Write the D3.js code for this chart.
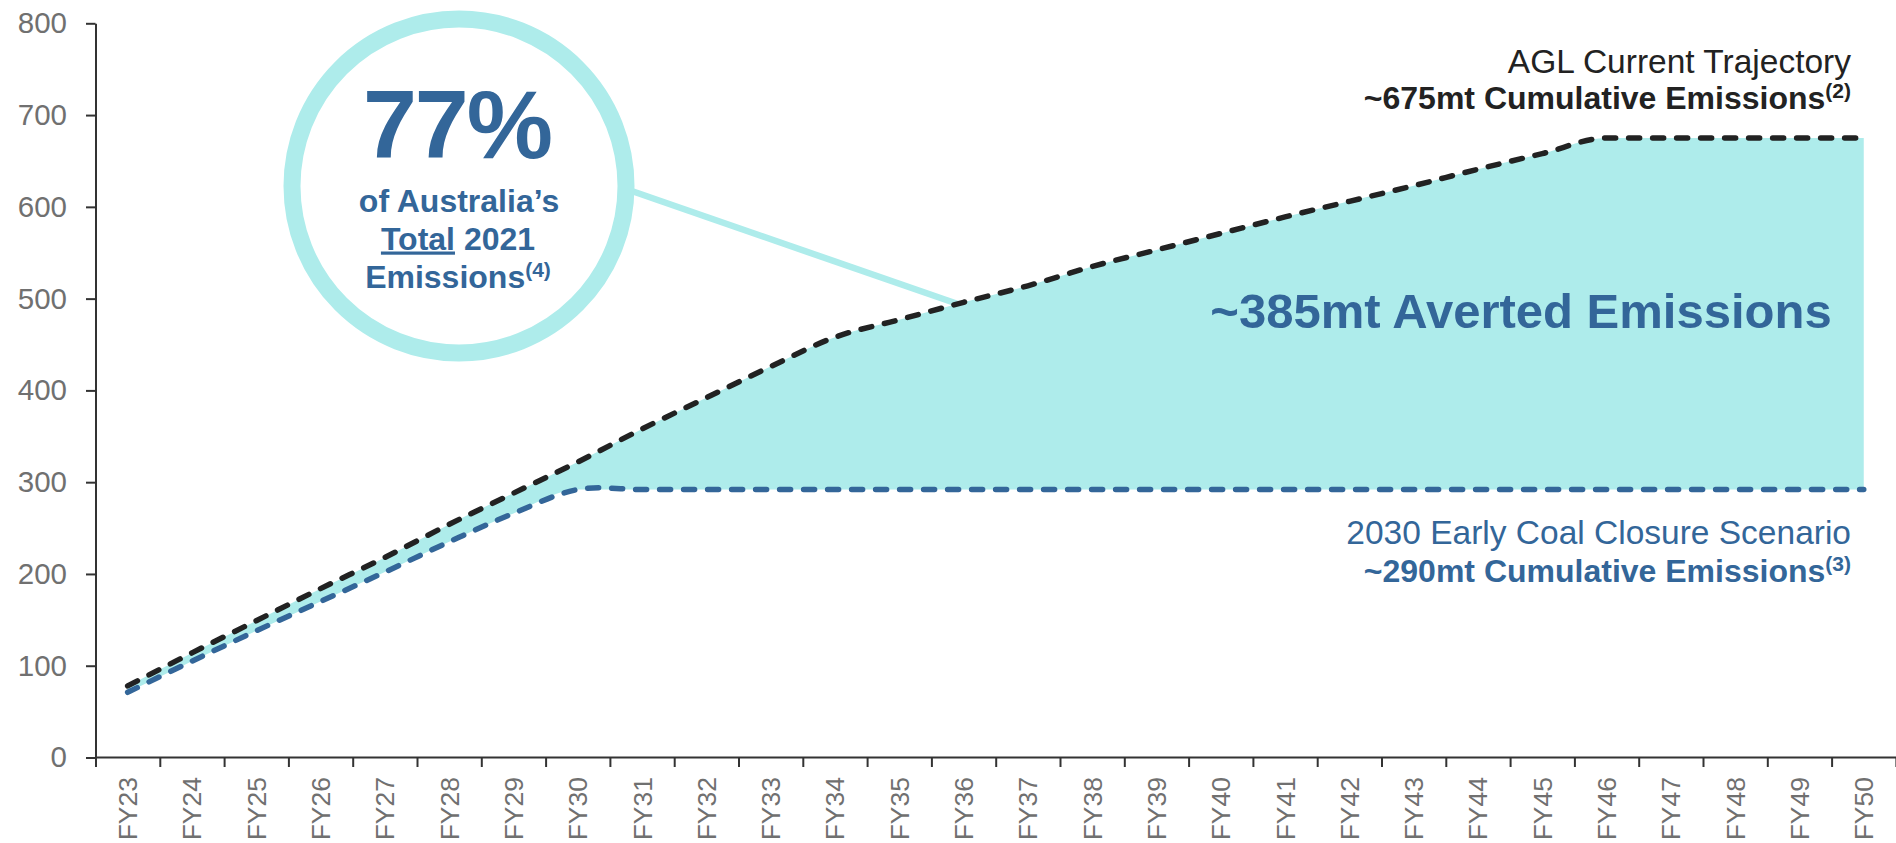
<!DOCTYPE html>
<html>
<head>
<meta charset="utf-8">
<script src="https://cdn.jsdelivr.net/npm/d3@7"></script>
<style>
  html, body { margin: 0; padding: 0; background: #ffffff; }
  svg { display: block; font-family: "Liberation Sans", Arial, Helvetica, sans-serif; }
</style>
</head>
<body>
<svg id="chart" width="1896" height="843"></svg>
<script>
// ---------------- DATA ----------------
const categories = ["FY23","FY24","FY25","FY26","FY27","FY28","FY29","FY30","FY31","FY32",
  "FY33","FY34","FY35","FY36","FY37","FY38","FY39","FY40","FY41","FY42","FY43","FY44",
  "FY45","FY46","FY47","FY48","FY49","FY50"];
// AGL current trajectory – cumulative emissions (mt)
const currentTrajectory = [78,114,149,184,218,254,288,322,358,392,426,458,477,496,514,535,
  553,571,589,606,623,641,658,675,675,675,675,675];
// 2030 early coal closure scenario – cumulative emissions (mt)
const earlyClosure = [71,105,138,170,202,235,266,292,292,292,292,292,292,292,292,292,292,
  292,292,292,292,292,292,292,292,292,292,292];
const yTicks = [0,100,200,300,400,500,600,700,800];
const calloutCategory = "FY36";

// ---------------- LAYOUT ----------------
const W = 1896, H = 843;
const axisX = 95.5, yTop = 23.3, yBottom = 757.5, bandW = 64.3;
const cyan = "#aeeceb", blue = "#336699", dark = "#222222", grey = "#707070";

const svg = d3.select("#chart");

const x = d3.scaleBand().domain(categories).range([axisX, axisX + categories.length * bandW]).padding(0);
const xc = d => x(d) + x.bandwidth() / 2;
const y = d3.scaleLinear().domain([0, 800]).range([yBottom, yTop]);

const rows = categories.map((c, i) => ({ c, hi: currentTrajectory[i], lo: earlyClosure[i] }));

// area between the two scenarios
svg.append("path")
  .datum(rows)
  .attr("fill", cyan)
  .attr("d", d3.area().curve(d3.curveMonotoneX).x(d => xc(d.c)).y0(d => y(d.lo)).y1(d => y(d.hi)));

// ---------------- AXES ----------------
const yAxis = svg.append("g")
  .attr("transform", `translate(${axisX},0)`)
  .call(d3.axisLeft(y).tickValues(yTicks).tickSize(9.5).tickSizeOuter(0).tickPadding(19));
yAxis.select(".domain").attr("stroke", "#333").attr("stroke-width", 2);
yAxis.selectAll(".tick line").attr("stroke", "#333").attr("stroke-width", 2);
yAxis.selectAll(".tick text").attr("fill", grey).attr("font-size", 29.5)
  .attr("font-family", "Liberation Sans, Arial, sans-serif");

// boundary ticks (between categories)
const xb = d3.scaleLinear().domain([0, categories.length]).range([axisX, axisX + categories.length * bandW]);
const xAxis = svg.append("g")
  .attr("transform", `translate(0,${yBottom})`)
  .call(d3.axisBottom(xb).tickValues(d3.range(0, categories.length + 1)).tickSize(9.5).tickSizeOuter(0).tickFormat(""));
xAxis.select(".domain").attr("stroke", "#333").attr("stroke-width", 2).attr("d", `M${axisX},0H${W}`);
xAxis.selectAll(".tick line").attr("stroke", "#333").attr("stroke-width", 2);

// category labels
const xLab = svg.append("g")
  .attr("transform", `translate(0,${yBottom})`)
  .call(d3.axisBottom(x).tickSize(0).tickPadding(0));
xLab.select(".domain").remove();
xLab.selectAll(".tick text")
  .attr("fill", grey)
  .attr("font-size", 26.5)
  .attr("font-family", "Liberation Sans, Arial, sans-serif")
  .attr("text-anchor", "end")
  .attr("transform", "rotate(-90)")
  .attr("x", -19.5)
  .attr("y", 0)
  .attr("dy", "0.36em");

// ---------------- CALLOUT CONNECTOR ----------------
const circ = { cx: 459, cy: 186, r: 167, sw: 17 };
const tgt = { x: xc(calloutCategory), y: y(currentTrajectory[categories.indexOf(calloutCategory)]) };
svg.append("line")
  .attr("x1", circ.cx + circ.r).attr("y1", circ.cy + 3)
  .attr("x2", tgt.x - 5).attr("y2", tgt.y + 2)
  .attr("stroke", cyan).attr("stroke-width", 6.5);

// ---------------- LINES ----------------
svg.append("path").datum(rows)
  .attr("fill", "none").attr("stroke", blue).attr("stroke-width", 5.5)
  .attr("stroke-linecap", "round").attr("stroke-dasharray", "11 13")
  .attr("d", d3.line().curve(d3.curveCatmullRom.alpha(0.5)).x(d => xc(d.c)).y(d => y(d.lo)));
svg.append("path").datum(rows)
  .attr("fill", "none").attr("stroke", dark).attr("stroke-width", 5.5)
  .attr("stroke-linecap", "round").attr("stroke-dasharray", "11 13")
  .attr("d", d3.line().curve(d3.curveMonotoneX).x(d => xc(d.c)).y(d => y(d.hi)));

// ---------------- CIRCLE ANNOTATION ----------------
svg.append("circle")
  .attr("cx", circ.cx).attr("cy", circ.cy).attr("r", circ.r)
  .attr("fill", "#ffffff").attr("stroke", cyan).attr("stroke-width", circ.sw);

const ct = svg.append("g").attr("fill", blue).attr("font-weight", "bold").attr("text-anchor", "middle");
ct.append("text").attr("x", circ.cx - 2).attr("y", 158).attr("font-size", 97)
  .attr("letter-spacing", -2).text("77%");
ct.append("text").attr("x", circ.cx).attr("y", 212).attr("font-size", 32).text("of Australia\u2019s");
const t2 = ct.append("text").attr("x", circ.cx - 1).attr("y", 249.5).attr("font-size", 32);
t2.append("tspan").attr("text-decoration", "underline").text("Total");
t2.append("tspan").text(" 2021");
const t3 = ct.append("text").attr("x", circ.cx - 1).attr("y", 287.5).attr("font-size", 32);
t3.append("tspan").text("Emissions");
t3.append("tspan").attr("font-size", 21).attr("dy", -11).text("(4)");

// ---------------- TEXT LABELS ----------------
svg.append("text")
  .attr("x", 1521).attr("y", 328).attr("text-anchor", "middle")
  .attr("fill", blue).attr("font-weight", "bold").attr("font-size", 49)
  .text("~385mt Averted Emissions");

const labRight = 1851;
svg.append("text").attr("x", labRight).attr("y", 72.5).attr("text-anchor", "end")
  .attr("fill", dark).attr("font-size", 33.5).text("AGL Current Trajectory");
const b1 = svg.append("text").attr("x", labRight).attr("y", 109).attr("text-anchor", "end")
  .attr("fill", dark).attr("font-weight", "bold").attr("font-size", 32);
b1.append("tspan").text("~675mt Cumulative Emissions");
b1.append("tspan").attr("font-size", 21).attr("dy", -11).text("(2)");

svg.append("text").attr("x", labRight).attr("y", 544).attr("text-anchor", "end")
  .attr("fill", blue).attr("font-size", 33.5).text("2030 Early Coal Closure Scenario");
const b2 = svg.append("text").attr("x", labRight).attr("y", 581.5).attr("text-anchor", "end")
  .attr("fill", blue).attr("font-weight", "bold").attr("font-size", 32);
b2.append("tspan").text("~290mt Cumulative Emissions");
b2.append("tspan").attr("font-size", 21).attr("dy", -11).text("(3)");
</script>
</body>
</html>
